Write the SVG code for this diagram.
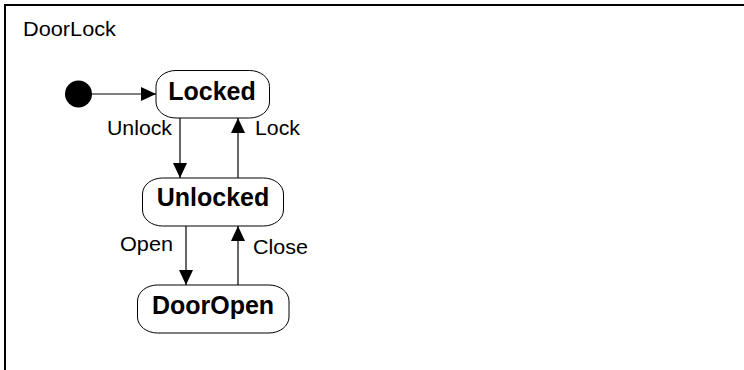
<svg xmlns="http://www.w3.org/2000/svg" width="744" height="370" viewBox="0 0 744 370">
<style>
.lbl{font-family:"Liberation Sans",Arial,sans-serif;font-size:20px;fill:#000}
.st{font-family:"Liberation Sans",Arial,sans-serif;font-size:25px;font-weight:bold;fill:#000;text-anchor:middle}
.box{fill:#fff;stroke:#000;stroke-width:1}
.edge{stroke:#000;stroke-width:1.2;fill:none;marker-end:url(#ah)}
</style>
<defs>
<marker id="ah" markerUnits="userSpaceOnUse" markerWidth="15" markerHeight="14" refX="15" refY="7" orient="auto">
<path d="M0,0 L15,7 L0,14 z" fill="#000"/>
</marker>
</defs>
<rect width="744" height="370" fill="#fff"/>
<g id="frame">
<path d="M5,380 V5 H760" fill="none" stroke="#000" stroke-width="2"/>
<text class="lbl" x="23" y="36" textLength="93" lengthAdjust="spacingAndGlyphs">DoorLock</text>
</g>
<g id="initial">
<circle cx="78.5" cy="94" r="13.5" fill="#000"/>
</g>
<g id="Locked">
<rect class="box" x="156" y="70.5" width="113.5" height="47.5" rx="20" ry="16"/>
<text class="st" x="212" y="100">Locked</text>
</g>
<g id="Unlocked">
<rect class="box" x="142.5" y="178" width="141" height="48" rx="20" ry="16"/>
<text class="st" x="213" y="205.5">Unlocked</text>
</g>
<g id="DoorOpen">
<rect class="box" x="137.5" y="285" width="151.5" height="48" rx="20" ry="16"/>
<text class="st" x="213" y="314">DoorOpen</text>
</g>
<g id="connectors">
<line class="edge" x1="92" y1="94" x2="156" y2="94"/>
<line class="edge" x1="180" y1="118" x2="180" y2="178"/>
<line class="edge" x1="238" y1="178" x2="238" y2="118"/>
<line class="edge" x1="186" y1="226" x2="186" y2="285"/>
<line class="edge" x1="238" y1="285" x2="238" y2="226"/>
<text class="lbl" x="107" y="134.5" textLength="65" lengthAdjust="spacingAndGlyphs">Unlock</text>
<text class="lbl" x="255" y="135" textLength="45" lengthAdjust="spacingAndGlyphs">Lock</text>
<text class="lbl" x="120" y="250.5" textLength="53" lengthAdjust="spacingAndGlyphs">Open</text>
<text class="lbl" x="253" y="254" textLength="55" lengthAdjust="spacingAndGlyphs">Close</text>
</g>
</svg>
